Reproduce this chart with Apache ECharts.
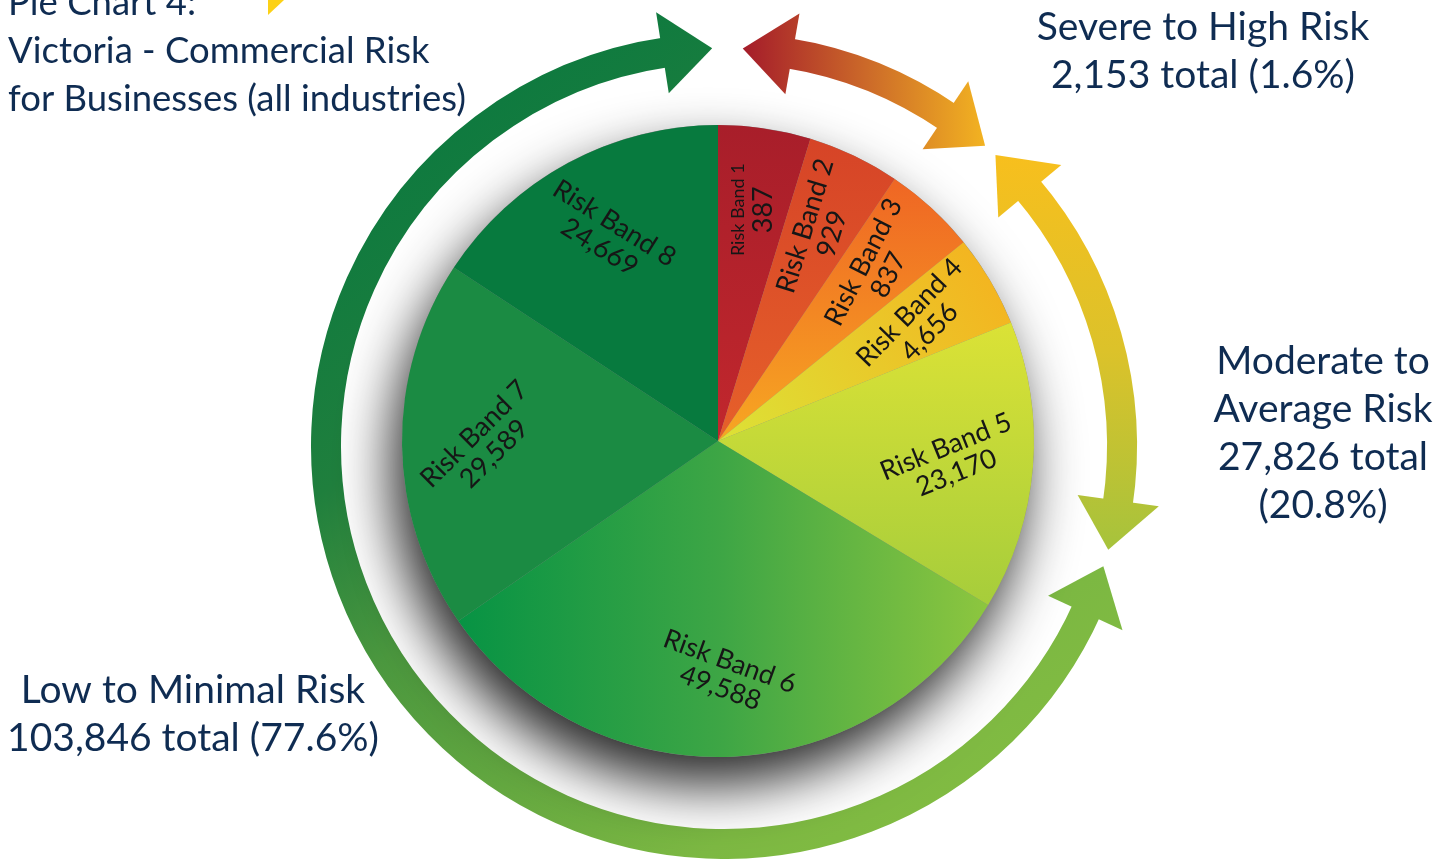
<!DOCTYPE html>
<html>
<head>
<meta charset="utf-8">
<script src="https://cdn.jsdelivr.net/npm/echarts@6/dist/echarts.min.js"></script>
<style>
html,body{margin:0;padding:0;background:#ffffff;}
#chart{width:1454px;height:859px;}
</style>
</head>
<body>
<div id="chart"></div>
<script>
// ---------- data ----------
const bandNames = ['Risk Band 1','Risk Band 2','Risk Band 3','Risk Band 4','Risk Band 5','Risk Band 6','Risk Band 7','Risk Band 8'];
const bandValues = [387, 929, 837, 4656, 23170, 49588, 29589, 24669];
const groupLabels = ['Severe to High Risk', 'Moderate to\nAverage Risk', 'Low to Minimal Risk'];
const groupTotals = [2153, 27826, 103846];
const groupShares = [1.6, 20.8, 77.6];
const titleLines = ['Pie Chart 4:', 'Victoria - Commercial Risk', 'for Businesses (all industries)'];

// ---------- style ----------
const PC = [718, 441], PR = 316;
const NAVY = '#0f2c52';
const FONT = 'Lato, "Open Sans", sans-serif';
const fmt = v => v.toLocaleString('en-US');
const lin = (x, y, x2, y2, stops) => ({type:'linear', x, y, x2, y2, colorStops: stops.map(s => ({offset:s[0], color:s[1]}))});

const sliceColors = [
  lin(0,0,0,1,[[0,'#a81e2a'],[1,'#c1272d']]),
  lin(0,0,0,1,[[0,'#d64427'],[1,'#e6602a']]),
  lin(0,0,0,1,[[0,'#ef6624'],[1,'#f7a722']]),
  lin(1,0,0,1,[[0,'#f6b01e'],[1,'#dce236']]),
  lin(0,0,0,1,[[0,'#dbe236'],[1,'#a6cd3b']]),
  lin(0,0,1,0,[[0,'#079344'],[0.5,'#3ea645'],[1,'#8dc63f']]),
  '#1b8b43',
  '#077a3e'
];
const labelRotate = [90, 73, 63, 46, 22, -20, 45, -32];
const labelNameKey = ['s','n','n','n','n','n','n','n'];
const LABEL_R = 0.74;

// ---------- arrows (decorative ring) ----------
const AC = [724, 446], AR = 398, SHAFT = 30, HEAD_L = 50, HEAD_W = 41;
const RAD = Math.PI / 180;
function pt(theta, r) { const a = (theta - 90) * RAD; return [AC[0] + r * Math.cos(a), AC[1] + r * Math.sin(a)]; }
function arrow(a, b, grad) {
  const dh = HEAD_L / AR / RAD;
  return [
    {type:'arc', silent:true, shape:{cx:AC[0], cy:AC[1], r:AR, startAngle:(a + dh * 0.9 - 90) * RAD, endAngle:(b - dh * 0.9 - 90) * RAD, clockwise:true},
      style:{stroke:grad, lineWidth:SHAFT, fill:'none'}},
    {type:'polygon', silent:true, shape:{points:[pt(a, AR), pt(a + dh, AR + HEAD_W), pt(a + dh, AR - HEAD_W)]}, style:{fill:grad}},
    {type:'polygon', silent:true, shape:{points:[pt(b, AR), pt(b - dh, AR + HEAD_W), pt(b - dh, AR - HEAD_W)]}, style:{fill:grad}}
  ];
}
const gGreen = {type:'linear', global:true, x:500, y:100, x2:1000, y2:800,
  colorStops:[{offset:0,color:'#0f7a3f'},{offset:0.25,color:'#1f7f3d'},{offset:0.45,color:'#4b983e'},{offset:0.85,color:'#7cb842'},{offset:1,color:'#82bc42'}]};
const gRed = {type:'linear', global:true, x:745, y:0, x2:990, y2:0,
  colorStops:[{offset:0,color:'#a51d2a'},{offset:0.5,color:'#cc6a29'},{offset:1,color:'#f4b621'}]};
const gYellow = {type:'linear', global:true, x:0, y:150, x2:0, y2:550,
  colorStops:[{offset:0,color:'#f8bf1d'},{offset:0.5,color:'#dcc22a'},{offset:1,color:'#a6c33c'}]};

const arrowEls = [].concat(
  arrow(107.6, 358.3, gGreen),
  arrow(2.7, 41, gRed),
  arrow(43, 105.1, gYellow)
);

function txt(x, y, text, size, align) {
  return {type:'text', silent:true, style:{x, y, text, fill:NAVY, font:'normal ' + size + 'px ' + FONT, textAlign:align || 'left', textVerticalAlign:'middle', lineHeight:48}};
}
const textEls = [
  txt(8, 3, titleLines[0], 36.5),
  txt(8, 51, titleLines[1], 36.5),
  txt(8, 99, titleLines[2], 36.5),
  txt(1203, 51, groupLabels[0] + '\n' + fmt(groupTotals[0]) + ' total (' + groupShares[0] + '%)', 39, 'center'),
  txt(1323, 433, groupLabels[1] + '\n' + fmt(groupTotals[1]) + ' total\n(' + groupShares[1] + '%)', 39, 'center'),
  txt(193, 714, groupLabels[2] + '\n' + fmt(groupTotals[2]) + ' total (' + groupShares[2] + '%)', 39, 'center'),
  {type:'polygon', silent:true, shape:{points:[[268,0],[284,0],[268,15]]}, style:{fill:'#fcd116'}}
];

const chart = echarts.init(document.getElementById('chart'));
chart.setOption({
  backgroundColor:'#ffffff',
  animation:false,
  graphic:{elements: arrowEls.concat(textEls)},
  series:[
    {
      type:'pie', silent:true, z:1, center:PC, radius:PR,
      label:{show:false}, labelLine:{show:false},
      data:[{value:1, itemStyle:{color:'#8a8a8a', shadowBlur:55, shadowOffsetX:-10, shadowOffsetY:28, shadowColor:'rgba(0,0,0,0.85)'}}]
    },
    {
      type:'pie', z:2, center:PC, radius:PR, startAngle:90, clockwise:true, minAngle:17,
      avoidLabelOverlap:false,
      itemStyle:{borderWidth:0},
      labelLine:{show:false},
      label:{
        show:true, position:'inside', color:'#161616', fontFamily:FONT,
        formatter: p => '{' + labelNameKey[p.dataIndex] + '|' + p.name + '}\n{v|' + fmt(p.value) + '}',
        rich:{
          n:{fontSize:27, lineHeight:28, fontFamily:FONT, color:'#161616'},
          s:{fontSize:18, lineHeight:22, fontFamily:FONT, color:'#161616'},
          v:{fontSize:27, lineHeight:28, fontFamily:FONT, color:'#161616'}
        }
      },
      labelLayout: function (p) {
        const data = chart.getModel().getSeriesByIndex(1).getData();
        const lay = data.getItemLayout(p.dataIndex);
        const mid = (lay.startAngle + lay.endAngle) / 2;
        return {
          x: lay.cx + lay.r * LABEL_R * Math.cos(mid),
          y: lay.cy + lay.r * LABEL_R * Math.sin(mid),
          rotate: labelRotate[p.dataIndex],
          align: 'center', verticalAlign: 'middle'
        };
      },
      data: bandNames.map((n, i) => ({
        name:n, value:bandValues[i],
        itemStyle:{color:sliceColors[i]}
      }))
    }
  ]
});
</script>
</body>
</html>
